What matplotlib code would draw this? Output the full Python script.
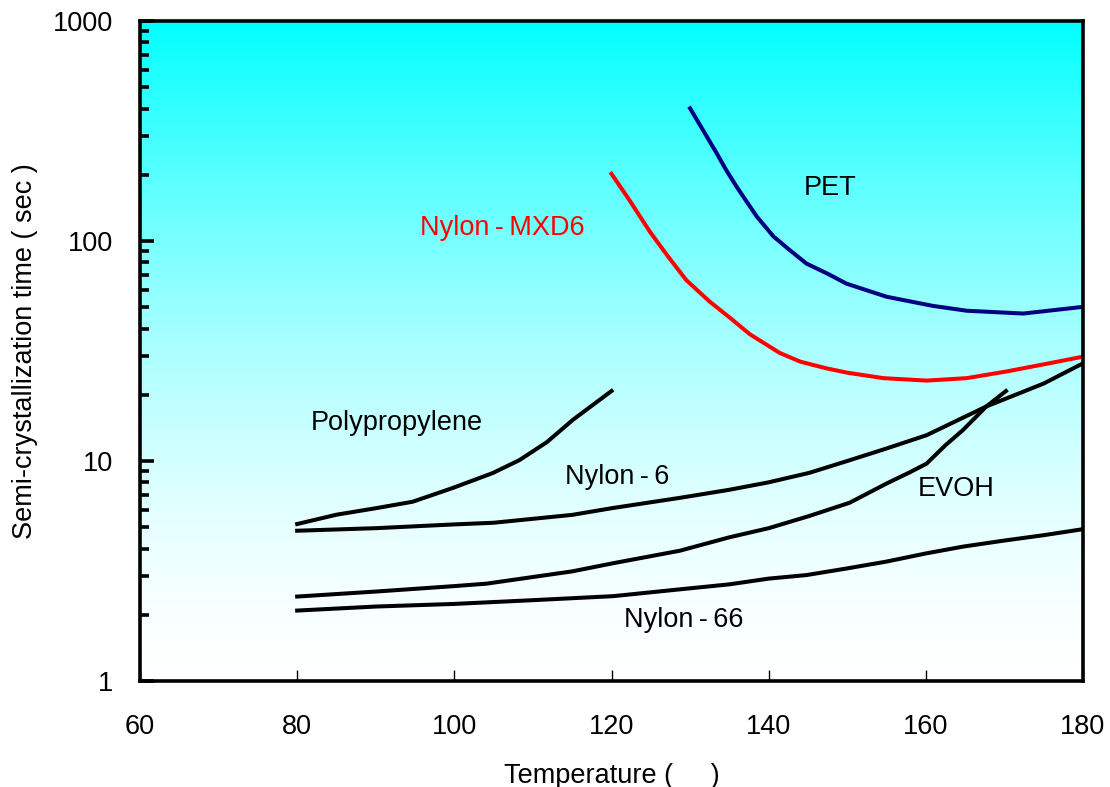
import numpy as np
import matplotlib
matplotlib.use("Agg")
import matplotlib.pyplot as plt
from matplotlib.ticker import LogLocator, NullFormatter, FixedLocator

plt.rcParams['font.family'] = ['Liberation Sans', 'DejaVu Sans']

# ---- data ----
pet_t = [130, 133.4, 134.6, 135.9, 137.2, 138.5, 140.6, 142.5, 144.8, 147.5, 149.9, 155, 160.9, 165.2, 172.4, 180]
pet_s = [401, 250, 210, 177, 151, 129, 105, 92, 79, 71, 64, 55.8, 50.7, 48.2, 46.8, 50.2]

mxd6_t = [120, 122.3, 124.9, 127.2, 129.5, 132.5, 135, 137.6, 141.4, 144, 147.3, 150, 154.6, 160.1, 165.2, 170.2, 175, 180]
mxd6_s = [202, 153, 110, 85, 66.5, 53, 45, 37.7, 31, 28.3, 26.4, 25.2, 23.8, 23.2, 23.8, 25.5, 27.5, 29.8]

pp_t = [80, 85, 90, 94.7, 99.8, 104.9, 108.3, 111.8, 115.1, 120]
pp_s = [5.17, 5.7, 6.1, 6.53, 7.54, 8.82, 10.1, 12.2, 15.4, 20.8]

ny6_t = [80, 90, 100, 105, 115, 120, 128.7, 135, 140, 145.2, 150, 155, 160.1, 167.7, 175, 180]
ny6_s = [4.82, 4.95, 5.15, 5.24, 5.69, 6.1, 6.8, 7.4, 8.0, 8.84, 10.0, 11.4, 13.1, 17.7, 22.5, 27.8]

evoh_t = [80, 90, 100, 104.1, 115, 120.2, 128.7, 135, 140, 145, 150.3, 155, 158, 160.1, 162.5, 164.7, 167.7, 170.2]
evoh_s = [2.42, 2.55, 2.7, 2.77, 3.15, 3.43, 3.91, 4.5, 4.95, 5.6, 6.46, 7.9, 8.9, 9.73, 11.8, 13.8, 17.7, 20.8]

ny66_t = [80, 90, 99.9, 110, 120.2, 128.7, 135, 140, 144.8, 150, 155, 160, 164.7, 170, 175, 180]
ny66_s = [2.09, 2.18, 2.24, 2.33, 2.43, 2.61, 2.75, 2.92, 3.03, 3.25, 3.49, 3.8, 4.08, 4.35, 4.6, 4.9]

x_ticks = [60, 80, 100, 120, 140, 160, 180]
y_ticks = [1, 10, 100, 1000]
y_tick_labels = ['1', '10', '100', '1000']

labels = ['PET', 'Nylon\u2009-\u2009MXD6', 'Polypropylene', 'Nylon\u2009-\u20096', 'EVOH', 'Nylon\u2009-\u200966']
label_x = [147.8, 106.05, 92.7, 120.7, 163.8, 129.2]
label_y = [174, 114.5, 14.9, 8.46, 7.46, 1.89]
label_colors = ['black', 'red', 'black', 'black', 'black', 'black']

# ---- figure ----
fig = plt.figure(figsize=(11.10, 7.87), dpi=100)
ax = fig.add_axes([140/1110, 1 - 681/787, (1083-140)/1110, (681-21)/787])

ax.set_xlim(60, 180)
ax.set_yscale('log')
ax.set_ylim(1, 1000)

# gradient background
f = np.linspace(0, 1, 512).reshape(-1, 1)  # 0 top -> 1 bottom
r = 1 - (1 - f) ** 1.6
img = np.dstack([r, np.ones_like(r), np.ones_like(r)])
ax.imshow(img, extent=[0, 1, 0, 1], transform=ax.transAxes, aspect='auto',
          origin='upper', zorder=0, interpolation='bilinear')

lw = 2.9
ax.plot(pet_t, pet_s, color='#000080', lw=lw, zorder=3)
ax.plot(mxd6_t, mxd6_s, color='#ff0000', lw=lw, zorder=3)
ax.plot(pp_t, pp_s, color='black', lw=lw, zorder=3)
ax.plot(ny6_t, ny6_s, color='black', lw=lw, zorder=3)
ax.plot(evoh_t, evoh_s, color='black', lw=lw, zorder=3)
ax.plot(ny66_t, ny66_s, color='black', lw=lw, zorder=3)

for s, x, y, c in zip(labels, label_x, label_y, label_colors):
    ax.text(x, y, s, color=c, fontsize=19.5, ha='center', va='center', zorder=4)

# ticks
ax.xaxis.set_major_locator(FixedLocator(x_ticks))
ax.set_xticklabels([str(v) for v in x_ticks])
ax.yaxis.set_major_locator(FixedLocator(y_ticks))
ax.set_yticklabels(y_tick_labels)
ax.yaxis.set_minor_locator(LogLocator(base=10, subs=np.arange(2, 10)))
ax.yaxis.set_minor_formatter(NullFormatter())

ax.tick_params(axis='x', which='major', direction='in', length=8, width=1,
               labelsize=19.5, pad=24, top=False)
ax.tick_params(axis='y', which='major', direction='in', length=10, width=2.6,
               labelsize=19.5, pad=19, right=False)
ax.tick_params(axis='y', which='minor', direction='in', length=6.5, width=2.6, right=False)

for sp in ax.spines.values():
    sp.set_linewidth(2.6)
    sp.set_zorder(5)

ax.set_xlabel('Temperature (     )', fontsize=19.5, labelpad=16)
ax.set_ylabel('Semi-crystallization time ( sec )', fontsize=19.5, labelpad=11)

fig.savefig('out.png', dpi=100)
